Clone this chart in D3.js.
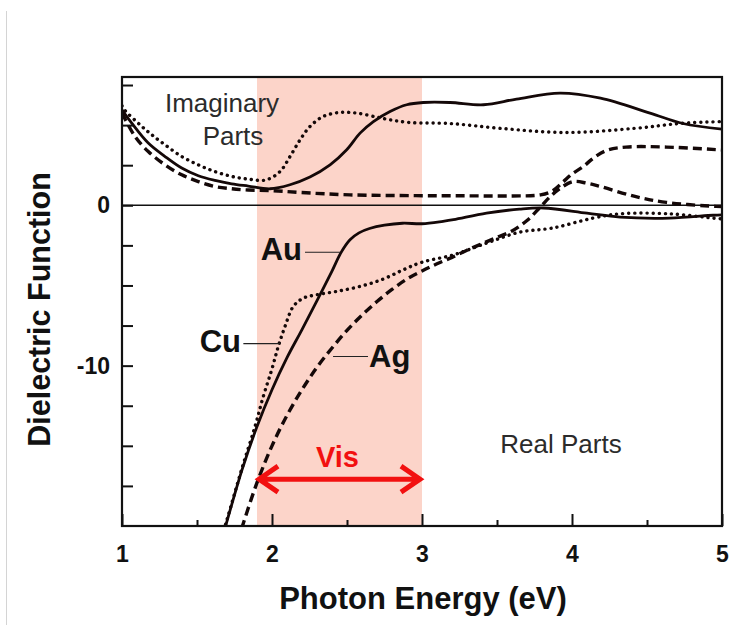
<!DOCTYPE html>
<html>
<head>
<meta charset="utf-8">
<script src="https://cdn.jsdelivr.net/npm/d3@7"></script>
<style>
  body { margin: 0; background: #fff; }
  svg { display: block; font-family: "Liberation Sans", Arial, sans-serif; }
</style>
</head>
<body>
<svg id="main-chart"></svg>
<script>
// photon energy (eV) vs dielectric function
const auImag = [[1.0,5.95],[1.065,5.12],[1.175,3.88],[1.287,3.04],[1.398,2.32],[1.509,1.84],[1.62,1.55],[1.731,1.34],[1.842,1.2],
  [1.987,1.03],[2.12,1.28],[2.253,1.76],[2.387,2.52],[2.498,3.46],[2.587,4.5],[2.676,5.22],[2.787,5.85],[2.898,6.27],[3.009,6.41],
  [3.187,6.41],[3.41,6.27],[3.63,6.62],[3.92,7.0],[4.19,6.68],[4.52,5.75],[4.74,5.1],[5.0,4.75]];
const cuImag = [[1.0,6.2],[1.02,5.91],[1.12,5.02],[1.198,4.4],[1.287,3.77],[1.398,3.04],[1.509,2.52],[1.62,2.1],[1.731,1.8],[1.842,1.63],
  [1.96,1.58],[2.053,2.1],[2.12,3.04],[2.187,4.08],[2.253,4.91],[2.342,5.54],[2.453,5.79],[2.564,5.75],[2.698,5.5],[2.787,5.33],
  [2.92,5.16],[3.187,5.1],[3.52,4.8],[3.96,4.54],[4.42,4.8],[4.74,5.12],[5.0,5.22]];
const agImag = [[1.0,5.75],[1.087,4.29],[1.175,3.35],[1.287,2.52],[1.398,1.9],[1.509,1.48],[1.62,1.17],[1.731,1.03],[1.842,0.95],
  [1.987,0.92],[2.187,0.8],[2.52,0.65],[2.96,0.6],[3.3,0.59],[3.6,0.58],[3.79,0.65],[3.87,0.9],[3.94,1.45],[4.0,1.95],[4.076,2.42],
  [4.142,2.94],[4.231,3.42],[4.36,3.63],[4.63,3.63],[5.0,3.45]];

const auReal = [[1.66,-21.0],[1.7,-19.7],[1.8,-16.5],[1.9,-13.8],[2.0,-11.5],[2.1,-9.5],[2.2,-7.75],[2.3,-5.95],[2.4,-4.1],
  [2.46,-2.95],[2.52,-2.15],[2.58,-1.72],[2.65,-1.45],[2.75,-1.24],[2.87,-1.12],[3.0,-1.15],[3.14,-1.0],[3.21,-0.9],[3.43,-0.49],
  [3.65,-0.24],[3.81,-0.17],[4.1,-0.49],[4.32,-0.74],[4.65,-0.8],[4.94,-0.62],[5.0,-0.6]];
const cuReal = [[1.655,-21.0],[1.7,-19.6],[1.8,-16.4],[1.887,-13.79],[1.942,-11.92],[1.998,-10.26],[2.042,-8.8],
  [2.087,-7.55],[2.142,-6.31],[2.209,-5.79],[2.298,-5.58],[2.431,-5.37],[2.587,-5.06],[2.742,-4.6],[2.876,-4.02],[3.0,-3.55],
  [3.21,-3.09],[3.43,-2.36],[3.65,-1.68],[3.87,-1.42],[4.14,-0.8],[4.32,-0.53],[4.65,-0.53],[4.94,-0.8],[5.0,-0.85]];
const agReal = [[1.77,-21.0],[1.81,-19.8],[1.9,-17.3],[2.0,-15.0],[2.1,-13.1],[2.2,-11.5],[2.3,-10.1],[2.4,-8.9],[2.5,-7.8],
  [2.6,-6.85],[2.7,-6.0],[2.8,-5.25],[2.9,-4.6],[3.0,-4.1],[3.1,-3.65],[3.2,-3.25],[3.3,-2.8],[3.4,-2.4],[3.5,-2.0],[3.6,-1.6],
  [3.7,-0.95],[3.78,-0.2],[3.85,0.5],[3.92,1.05],[4.009,1.48],[4.098,1.38],[4.19,1.17],[4.42,0.55],[4.63,0.18],[4.96,-0.07],[5.0,-0.08]];

const xTicks = [1, 2, 3, 4, 5];
const xMinorTicks = [1.5, 2.5, 3.5, 4.5];
const yTicks = [7.5, 5, 2.5, 0, -2.5, -5, -7.5, -10, -12.5, -15, -17.5];
const yTickLabels = [0, -10];
const visBand = [1.9, 3.0];

const series = [
  {data: auImag, dash: null},
  {data: cuImag, dash: "0.1 6"},
  {data: agImag, dash: "9 5"},
  {data: auReal, dash: null},
  {data: cuReal, dash: "0.1 6"},
  {data: agReal, dash: "9 5"}
];

const width = 745, height = 625;
const margin = {top: 77, right: 23, bottom: 99, left: 122};

const svg = d3.select("#main-chart")
  .attr("width", width)
  .attr("height", height);

const x = d3.scaleLinear().domain([1, 5]).range([margin.left, width - margin.right]);
const y = d3.scaleLinear().domain([-20, 8]).range([height - margin.bottom, margin.top]);

// faint page edge on the left of the original screenshot
svg.append("line")
  .attr("x1", 6.5).attr("x2", 6.5).attr("y1", 11).attr("y2", height)
  .attr("stroke", "#d4d4d4").attr("stroke-width", 1);

svg.append("clipPath").attr("id", "plot-clip")
  .append("rect")
  .attr("x", margin.left).attr("y", margin.top)
  .attr("width", x(5) - x(1)).attr("height", y(-20) - y(8));

// visible range band
svg.append("rect")
  .attr("x", x(visBand[0]))
  .attr("y", y(8))
  .attr("width", x(visBand[1]) - x(visBand[0]))
  .attr("height", y(-20) - y(8))
  .attr("fill", "#fcd4c9");

// zero line
svg.append("line")
  .attr("x1", x(1)).attr("x2", x(5))
  .attr("y1", y(0)).attr("y2", y(0))
  .attr("stroke", "#111").attr("stroke-width", 1.6);

const line = d3.line()
  .x(d => x(d[0]))
  .y(d => y(d[1]))
  .curve(d3.curveCatmullRom.alpha(0.5));

svg.append("g")
  .attr("clip-path", "url(#plot-clip)")
  .selectAll("path")
  .data(series)
  .join("path")
  .attr("d", d => line(d.data))
  .attr("fill", "none")
  .attr("stroke", "#140808")
  .attr("stroke-width", d => d.dash === null ? 2.8 : 3.4)
  .attr("stroke-linecap", d => d.dash && d.dash.startsWith("0.1") ? "round" : "butt")
  .attr("stroke-dasharray", d => d.dash);

// axes, ticks pointing inward
const xAxis = g => g
  .attr("transform", `translate(0,${y(-20)})`)
  .call(d3.axisBottom(x).tickValues(xTicks).tickSize(-12).tickPadding(20).tickFormat(d3.format("d")))
  .call(g => g.select(".domain").remove());

const xMinorAxis = g => g
  .attr("transform", `translate(0,${y(-20)})`)
  .call(d3.axisBottom(x).tickValues(xMinorTicks).tickSize(-6).tickFormat(""))
  .call(g => g.select(".domain").remove());

const yAxis = g => g
  .attr("transform", `translate(${x(1)},0)`)
  .call(d3.axisLeft(y).tickValues(yTicks).tickSize(-11).tickPadding(12)
    .tickFormat(d => yTickLabels.includes(d) ? d : ""))
  .call(g => g.select(".domain").remove());

const gx = svg.append("g").call(xAxis);
svg.append("g").call(xMinorAxis);
const gy = svg.append("g").call(yAxis);

svg.selectAll(".tick line").attr("stroke", "#111").attr("stroke-width", 2);
gx.selectAll(".tick text")
  .attr("fill", "#111")
  .style("font-size", "23px")
  .style("font-weight", "bold");
gy.selectAll(".tick text")
  .attr("fill", "#111")
  .style("font-size", "23px")
  .style("font-weight", "bold");

// frame
svg.append("rect")
  .attr("x", x(1)).attr("y", y(8))
  .attr("width", x(5) - x(1)).attr("height", y(-20) - y(8))
  .attr("fill", "none")
  .attr("stroke", "#111")
  .attr("stroke-width", 2.2);

// axis titles
svg.append("text")
  .attr("x", (x(1) + x(5)) / 2 + 1)
  .attr("y", 609)
  .attr("text-anchor", "middle")
  .attr("font-size", 31)
  .attr("font-weight", "bold")
  .attr("fill", "#111")
  .text("Photon Energy (eV)");

svg.append("text")
  .attr("transform", `translate(50,${(y(8) + y(-20)) / 2 + 8}) rotate(-90)`)
  .attr("text-anchor", "middle")
  .attr("font-size", 30.5)
  .attr("font-weight", "bold")
  .attr("fill", "#111")
  .text("Dielectric Function");

// region labels
const plain = (t, px, py) => svg.append("text")
  .attr("x", px).attr("y", py)
  .attr("text-anchor", "middle")
  .attr("font-size", 26)
  .attr("fill", "#2b2b2b")
  .text(t);
plain("Imaginary", 222, 112);
plain("Parts", 233, 145);
plain("Real Parts", 561, 453);

// metal labels with leader lines
const metals = [
  {name: "Au", tx: 302, ty: 260, anchor: "end", l: [2.22, 2.453, -2.93]},
  {name: "Cu", tx: 241, ty: 352, anchor: "end", l: [1.809, 2.053, -8.63]},
  {name: "Ag", tx: 369, ty: 367, anchor: "start", l: [2.407, 2.64, -9.43]}
];
metals.forEach(m => {
  svg.append("line")
    .attr("x1", x(m.l[0])).attr("x2", x(m.l[1]))
    .attr("y1", y(m.l[2])).attr("y2", y(m.l[2]))
    .attr("stroke", "#222").attr("stroke-width", 1.2);
  svg.append("text")
    .attr("x", m.tx).attr("y", m.ty)
    .attr("text-anchor", m.anchor)
    .attr("font-size", 31)
    .attr("font-weight", "bold")
    .attr("fill", "#111")
    .text(m.name);
});

// visible range arrow
const ay = y(-17.08);
const x0 = x(visBand[0]) + 1, x1 = x(visBand[1]) - 1;
svg.append("path")
  .attr("d", `M${x0},${ay}H${x1}M${x0 + 20},${ay - 13}L${x0 + 1},${ay}L${x0 + 20},${ay + 13}` +
             `M${x1 - 20},${ay - 13}L${x1 - 1},${ay}L${x1 - 20},${ay + 13}`)
  .attr("fill", "none")
  .attr("stroke", "#f21010")
  .attr("stroke-width", 5)
  .attr("stroke-linejoin", "miter");

svg.append("text")
  .attr("x", (x0 + x1) / 2 - 2)
  .attr("y", 467)
  .attr("text-anchor", "middle")
  .attr("font-size", 29)
  .attr("font-weight", "bold")
  .attr("fill", "#f21010")
  .text("Vis");
</script>
</body>
</html>
